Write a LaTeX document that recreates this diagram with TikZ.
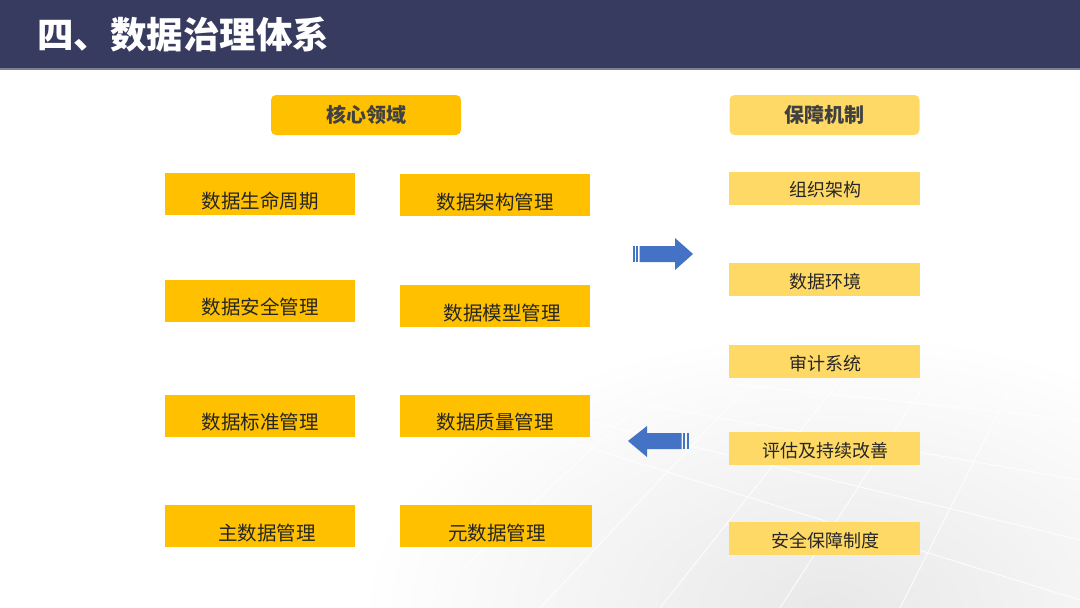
\documentclass[tikz,border=0pt]{standalone}
\usepackage{fontspec}
\setmainfont{Noto Sans CJK SC}
\usetikzlibrary{shadings}
\definecolor{navy}{HTML}{383B60}
\definecolor{gold}{HTML}{FFC000}
\definecolor{lgold}{HTML}{FFD966}
\definecolor{arrblue}{HTML}{4472C4}
\definecolor{txt}{HTML}{262626}
\begin{document}
\begin{tikzpicture}[x=1pt,y=-1pt,
  lbox/.style={fill=gold, draw=none, minimum width=190pt, minimum height=42pt, inner sep=0pt},
  rbox/.style={fill=lgold, draw=none, minimum width=191pt, minimum height=33pt, inner sep=0pt},
  hbox/.style={draw=none, rounded corners=5pt, minimum width=190pt, minimum height=40pt, inner sep=0pt},
  ltext/.style={font=\fontsize{19.5}{22}\selectfont, text=txt, inner sep=0pt},
  htext/.style={font=\fontsize{20}{22}\selectfont\bfseries, text=black!75, inner sep=0pt},
  rtext/.style={font=\fontsize{18}{20}\selectfont, text=txt, inner sep=0pt},
  stripe/.style={fill=arrblue, draw=none}
]
\useasboundingbox (0,0) rectangle (1080,608);
\fill[white] (0,0) rectangle (1080,608);
% faint background texture
\begin{scope}
\clip (0,70) rectangle (1080,608);
\shade[inner color=black!9, outer color=white] (830,610) ellipse (470pt and 280pt);
\foreach \a/\b in {300/650, 420/720, 540/800, 660/880, 780/960, 900/1040}
  \draw[white, line width=1pt, opacity=0.8] (\a,608) -- (\b,330);
\foreach \a/\b in {360/420, 380/480, 400/540, 420/600}
  \draw[white, line width=1pt, opacity=0.8] (500,\a) -- (1080,\b);
\end{scope}
% header
\fill[navy] (0,0) rectangle (1080,68);
\fill[navy!65] (0,68) rectangle (1080,70);
\node[anchor=west, text=white, font=\fontsize{36.5}{40}\selectfont\bfseries, inner sep=0pt] (title) at (37,35) {四、数据治理体系};
% section headers
\node[hbox, fill=gold] (core) at (366,115) {};
\node[htext] (coret) at (366,115) {核心领域};
\node[hbox, fill=lgold] (guar) at (824.5,115) {};
\node[htext] (guart) at (824.5,115) {保障机制};
% left boxes
\node[lbox] (a1) at (260,194) {};
\node[ltext] (a1t) at (260,201) {数据生命周期};
\node[lbox] (b1) at (494.5,195) {};
\node[ltext] (b1t) at (495,202) {数据架构管理};
\node[lbox] (a2) at (260,301) {};
\node[ltext] (a2t) at (260,307) {数据安全管理};
\node[lbox] (b2) at (494.5,306) {};
\node[ltext] (b2t) at (502,313) {数据模型管理};
\node[lbox] (a3) at (260,416) {};
\node[ltext] (a3t) at (260,422) {数据标准管理};
\node[lbox] (b3) at (494.5,416) {};
\node[ltext] (b3t) at (495,422) {数据质量管理};
\node[lbox] (a4) at (260,526) {};
\node[ltext] (a4t) at (267,533) {主数据管理};
\node[lbox, minimum width=192pt] (b4) at (496,526) {};
\node[ltext] (b4t) at (497,533) {元数据管理};
% right boxes
\node[rbox] (r1) at (824.5,188.5) {};
\node[rtext] (r1t) at (825,190) {组织架构};
\node[rbox] (r2) at (824.5,279.5) {};
\node[rtext] (r2t) at (825,282) {数据环境};
\node[rbox] (r3) at (824.5,361.5) {};
\node[rtext] (r3t) at (825,364) {审计系统};
\node[rbox] (r4) at (824.5,448.5) {};
\node[rtext] (r4t) at (825,451) {评估及持续改善};
\node[rbox] (r5) at (824.5,538.5) {};
\node[rtext] (r5t) at (825,541) {安全保障制度};
% right arrow
\fill[stripe] (632.5,246) rectangle (634.5,262);
\fill[stripe] (636,246) rectangle (638,262);
\fill[arrblue] (639.5,246) -- (675,246) -- (675,238) -- (693,254) -- (675,270) -- (675,262) -- (639.5,262) -- cycle;
% left arrow
\fill[stripe] (683,433) rectangle (685,449);
\fill[stripe] (686.5,433) rectangle (688.5,449);
\fill[arrblue] (681.5,433) -- (647,433) -- (647,426) -- (628,441) -- (647,457) -- (647,449) -- (681.5,449) -- cycle;
\end{tikzpicture}
\end{document}
